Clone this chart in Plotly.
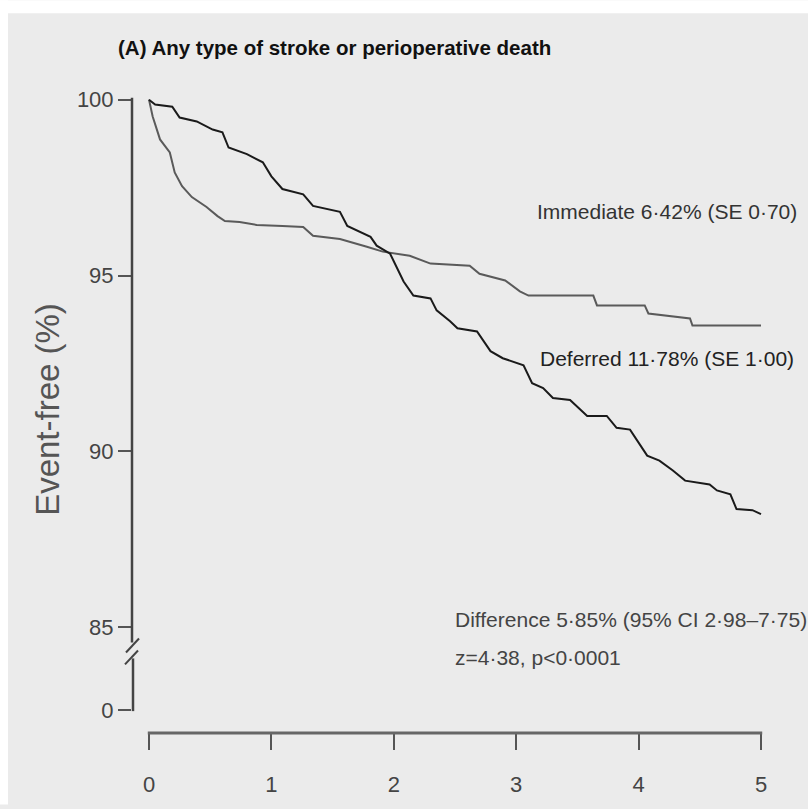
import plotly.graph_objects as go

# Kaplan-Meier style event-free curves (years, % event-free)
immediate_years = [0, 0.03, 0.09, 0.17, 0.21, 0.27, 0.35, 0.47, 0.56, 0.62, 0.74, 0.88,
                   1.09, 1.26, 1.34, 1.56, 1.78, 1.91, 2.13, 2.30, 2.62, 2.70, 2.91,
                   3.03, 3.10, 3.63, 3.66, 4.05, 4.08, 4.42, 4.44, 5.0]
immediate_pct = [100, 99.52, 98.87, 98.50, 97.93, 97.54, 97.23, 96.95, 96.69, 96.55, 96.52,
                 96.44, 96.41, 96.38, 96.13, 96.04, 95.82, 95.68, 95.56, 95.34, 95.28,
                 95.05, 94.86, 94.55, 94.43, 94.43, 94.15, 94.15, 93.92, 93.78, 93.58, 93.58]

deferred_years = [0, 0.05, 0.19, 0.25, 0.39, 0.52, 0.60, 0.65, 0.80, 0.93, 1.00, 1.09,
                  1.26, 1.34, 1.56, 1.62, 1.81, 1.86, 1.97, 2.08, 2.16, 2.30, 2.35, 2.46,
                  2.52, 2.68, 2.79, 2.89, 3.06, 3.13, 3.22, 3.30, 3.44, 3.58, 3.74, 3.82,
                  3.93, 4.07, 4.17, 4.28, 4.38, 4.58, 4.64, 4.75, 4.80, 4.93, 5.0]
deferred_pct = [100, 99.86, 99.80, 99.49, 99.38, 99.15, 99.07, 98.64, 98.45, 98.22, 97.82,
                97.46, 97.31, 96.98, 96.81, 96.41, 96.10, 95.85, 95.62, 94.83, 94.43,
                94.35, 94.01, 93.70, 93.50, 93.41, 92.85, 92.65, 92.45, 91.94, 91.80,
                91.52, 91.46, 91.01, 91.01, 90.67, 90.62, 89.88, 89.74, 89.46, 89.17,
                89.06, 88.89, 88.78, 88.36, 88.33, 88.22]

x_ticks = [0, 1, 2, 3, 4, 5]
y_ticks = [100, 95, 90, 85]
y_tick_text = ["100", "95", "90", "85", "0"]
y_zero_pos = 82.65  # position of the "0" label below the axis break

title_text = "(A) Any type of stroke or perioperative death"
immediate_label = "Immediate 6·42% (SE 0·70)"
deferred_label = "Deferred 11·78% (SE 1·00)"
diff_label = "Difference 5·85% (95% CI 2·98–7·75)"
stat_label = "z=4·38, p<0·0001"
y_title = "Event-free (%)"

W, H = 808, 809
ML, MR, MT, MB = 132, 38, 40, 72
PW, PH = W - ML - MR, H - MT - MB
BG = "#ebebeb"
FONT = "Liberation Sans, Arial, sans-serif"


def px(x):
    """Horizontal pixel -> paper fraction."""
    return (x - ML) / PW


def py(y):
    """Vertical pixel -> paper fraction."""
    return (H - MB - y) / PH


fig = go.Figure()
fig.add_trace(go.Scatter(x=immediate_years, y=immediate_pct, mode="lines",
                         line=dict(color="#5a5a5a", width=2), name="Immediate"))
fig.add_trace(go.Scatter(x=deferred_years, y=deferred_pct, mode="lines",
                         line=dict(color="#1a1a1a", width=2), name="Deferred"))

shapes = []
# white border strips at top and left
shapes.append(dict(type="rect", xref="paper", yref="paper", x0=px(0), x1=px(W),
                   y0=py(13), y1=py(0), fillcolor="white", line=dict(width=0), layer="below"))
shapes.append(dict(type="rect", xref="paper", yref="paper", x0=px(0), x1=px(8),
                   y0=py(H), y1=py(0), fillcolor="white", line=dict(width=0), layer="below"))
# y axis line with a break between 85 and 0
axis_col = "#444444"
shapes.append(dict(type="line", xref="paper", yref="paper", x0=0, x1=0,
                   y0=py(98), y1=py(646), line=dict(color=axis_col, width=2.5)))
shapes.append(dict(type="line", xref="paper", yref="paper", x0=px(126), x1=px(139),
                   y0=py(656), y1=py(642), line=dict(color=axis_col, width=2)))
shapes.append(dict(type="line", xref="paper", yref="paper", x0=px(125), x1=px(138),
                   y0=py(668), y1=py(654), line=dict(color=axis_col, width=2)))
shapes.append(dict(type="line", xref="paper", yref="paper", x0=px(133), x1=px(133),
                   y0=py(662), y1=py(715), line=dict(color=axis_col, width=2.5)))
# x axis line
shapes.append(dict(type="line", xref="x", yref="paper", x0=-0.01, x1=5.01,
                   y0=0, y1=0, line=dict(color="#666666", width=3)))

ann = []
ann.append(dict(text="<b>" + title_text + "</b>", x=px(116), y=py(48), xref="paper",
                yref="paper", xanchor="left", yanchor="middle", showarrow=False,
                font=dict(family=FONT, size=20.5, color="#111111")))
for txt, xx, yy, col in [(immediate_label, 535, 212, "#333333"),
                         (deferred_label, 538, 360, "#222222"),
                         (diff_label, 453, 623, "#444444"),
                         (stat_label, 453, 661, "#444444")]:
    ann.append(dict(text=txt, x=px(xx), y=py(yy), xref="paper", yref="paper",
                    xanchor="left", yanchor="middle", showarrow=False,
                    font=dict(family=FONT, size=21, color=col)))
ann.append(dict(text=y_title, x=px(48), y=py(412), xref="paper", yref="paper",
                xanchor="center", yanchor="middle", textangle=-90, showarrow=False,
                font=dict(family=FONT, size=33, color="#555555")))

fig.update_layout(
    width=W, height=H,
    margin=dict(l=ML, r=MR, t=MT, b=MB),
    paper_bgcolor=BG, plot_bgcolor=BG,
    showlegend=False,
    shapes=shapes,
    annotations=ann,
    xaxis=dict(range=[-(149 - ML) / 122.4, (W - MR - 149) / 122.4],
               tickvals=x_ticks, ticktext=[str(v) for v in x_ticks],
               ticks="outside", ticklen=16, tickwidth=2, tickcolor="#555555",
               ticklabelstandoff=16,
               showline=False, showgrid=False, zeroline=False,
               tickfont=dict(family=FONT, size=22, color="#444444")),
    yaxis=dict(range=[100 - (H - MB - 100) / 35.38, 100 + (100 - MT) / 35.38],
               tickvals=y_ticks + [y_zero_pos], ticktext=y_tick_text,
               ticks="outside", ticklen=13, tickwidth=2, tickcolor="#555555",
               showline=False, showgrid=False, zeroline=False,
               tickfont=dict(family=FONT, size=22, color="#444444")),
)

fig.write_html("out.html")
